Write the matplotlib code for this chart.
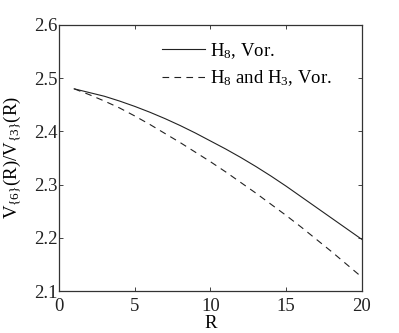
import matplotlib
matplotlib.use("Agg")
import matplotlib.pyplot as plt

plt.rcParams['font.family'] = ['Liberation Serif', 'DejaVu Serif']
plt.rcParams['mathtext.fontset'] = 'custom'
plt.rcParams['mathtext.rm'] = 'Liberation Serif'
plt.rcParams['mathtext.it'] = 'Liberation Serif:italic'
plt.rcParams['mathtext.default'] = 'regular'
plt.rcParams['lines.scale_dashes'] = False

R = [1, 2, 3, 4, 5, 6, 7, 8, 9, 10, 11, 12, 13, 14, 15, 16, 17, 18, 19, 20]
h8_vor = [2.480, 2.473, 2.466, 2.457, 2.447, 2.436, 2.424, 2.411, 2.397, 2.382,
          2.367, 2.351, 2.334, 2.316, 2.297, 2.277, 2.257, 2.237, 2.217, 2.197]
h8_h3_vor = [2.480, 2.469, 2.457, 2.444, 2.429, 2.413, 2.396, 2.379, 2.361, 2.343,
             2.324, 2.304, 2.284, 2.263, 2.242, 2.220, 2.197, 2.174, 2.150, 2.126]
xticks = [0, 5, 10, 15, 20]
yticks = [2.1, 2.2, 2.3, 2.4, 2.5, 2.6]

FS = 13.5

fig = plt.figure(figsize=(3.99, 3.33), dpi=100)
ax = fig.add_axes([0.148, 0.126, 0.759, 0.799])

ax.plot(R, h8_vor, color='#222222', lw=0.8, label='H$_8$, Vor.')
ax.plot(R, h8_h3_vor, color='#222222', lw=0.8, linestyle=(0, (4.8, 3.8)),
        label='H$_8$ and H$_3$, Vor.')

ax.set_xlim(0, 20)
ax.set_ylim(2.1, 2.6)
ax.set_xticks(xticks)
ax.set_yticks(yticks)
ax.set_xticklabels([str(t) for t in xticks])
ax.set_yticklabels([f'{t:.1f}' for t in yticks])
ax.tick_params(direction='in', top=True, right=True, length=3, width=0.6,
               labelsize=FS, colors='#222222')
ax.tick_params(axis='x', pad=5)
ax.tick_params(axis='y', pad=1)
for s in ax.spines.values():
    s.set_linewidth(0.9)
    s.set_color('#333333')

ax.set_xlabel('R', fontsize=FS, labelpad=0)
ax.set_ylabel('V$_{\\{6\\}}$(R)/V$_{\\{3\\}}$(R)', fontsize=FS, labelpad=8)

ax.legend(loc='upper left', bbox_to_anchor=(0.339, 0.94), frameon=False,
          fontsize=FS, handlelength=2.3, handletextpad=0.3, labelspacing=0.4,
          borderpad=0, borderaxespad=0)

fig.savefig('out.png', dpi=100)
